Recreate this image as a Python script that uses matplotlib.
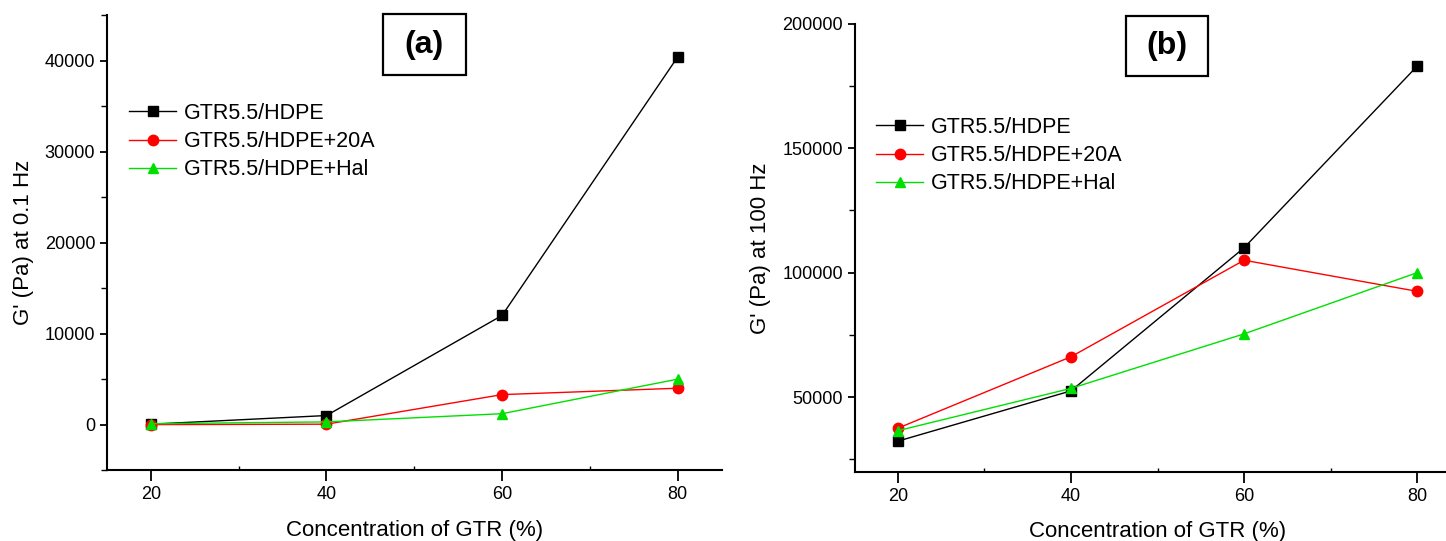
import matplotlib
matplotlib.use("Agg")
import matplotlib.pyplot as plt
from matplotlib.patches import Rectangle
from matplotlib.ticker import MultipleLocator

FONT = ["Liberation Sans Narrow", "Liberation Sans", "DejaVu Sans"]
ARIAL = ["Liberation Sans", "DejaVu Sans"]

# data
gtr = [20, 40, 60, 80]
labels = ["GTR5.5/HDPE", "GTR5.5/HDPE+20A", "GTR5.5/HDPE+Hal"]

g01_hdpe = [50, 1000, 12000, 40400]
g01_20a = [0, 50, 3300, 4000]
g01_hal = [100, 300, 1200, 5000]

g100_hdpe = [32300, 52500, 110000, 183000]
g100_20a = [37500, 66200, 105000, 92500]
g100_hal = [36500, 53500, 75400, 100000]

colors = ["black", "#FF0000", "#00E000"]
markers = ["s", "o", "^"]

W, H = 1446, 541
fig = plt.figure(figsize=(W / 100, H / 100), dpi=100)
ax1 = fig.add_axes([0.074, 0.131, 0.425, 0.841])
ax2 = fig.add_axes([0.591, 0.128, 0.419, 0.828])


def px(x, y):
    return x / W, 1 - y / H


def panel(ax, series, ylim, ymaj, ymin, ylabel, tag, box, leg_xy):
    for ys, c, m, lab in zip(series, colors, markers, labels):
        ax.plot(gtr, ys, color=c, lw=1.0, marker=m, ms=7.5, mec=c, mfc=c, label=lab)
    ax.set_xlim(15, 85)
    ax.set_ylim(*ylim)
    ax.xaxis.set_major_locator(MultipleLocator(20))
    ax.xaxis.set_minor_locator(MultipleLocator(10))
    ax.yaxis.set_major_locator(MultipleLocator(ymaj))
    ax.yaxis.set_minor_locator(MultipleLocator(ymin))
    for s in ["top", "right"]:
        ax.spines[s].set_visible(False)
    for s in ["left", "bottom"]:
        ax.spines[s].set_linewidth(1.5)
    ax.tick_params(axis="y", which="major", direction="out", length=5, width=1.3)
    ax.tick_params(axis="y", which="minor", direction="out", length=4, width=1.0)
    ax.tick_params(axis="x", which="major", direction="out", length=8, width=1.3)
    ax.tick_params(axis="x", which="minor", direction="in", length=3, width=1.0)
    ax.tick_params(labelsize=13)
    for t in ax.get_xticklabels() + ax.get_yticklabels():
        t.set_fontfamily(FONT)
    ax.set_xlabel("Concentration of GTR (%)", fontsize=16, family=FONT, labelpad=12)
    ax.set_ylabel(ylabel, fontsize=16, family=ARIAL, labelpad=8)

    # boxed panel tag
    x0, y0, x1, y1 = box
    bx, by = px(x0, y1)
    fig.add_artist(Rectangle((bx, by), (x1 - x0) / W, (y1 - y0) / H,
                             transform=fig.transFigure, fc="white", ec="black", lw=1.6))
    cx, cy = px((x0 + x1) / 2, (y0 + y1) / 2)
    fig.text(cx, cy, tag, fontsize=23, fontweight="bold", family=ARIAL,
             ha="center", va="center")

    ax.legend(loc="upper left", bbox_to_anchor=px(*leg_xy),
              bbox_transform=fig.transFigure, frameon=False,
              prop={"family": FONT, "size": 15.5}, handlelength=2.2,
              handletextpad=0.33, labelspacing=0.33, borderpad=0, borderaxespad=0)


panel(ax1, [g01_hdpe, g01_20a, g01_hal], (-5000, 45000), 10000, 5000,
      "G' (Pa) at 0.1 Hz", "(a)", (383, 14, 466, 75), (129, 103))
panel(ax2, [g100_hdpe, g100_20a, g100_hal], (20000, 200000), 50000, 25000,
      "G' (Pa) at 100 Hz", "(b)", (1126, 16, 1208, 76), (876, 117))

fig.savefig("out.png", dpi=100, facecolor="white")
